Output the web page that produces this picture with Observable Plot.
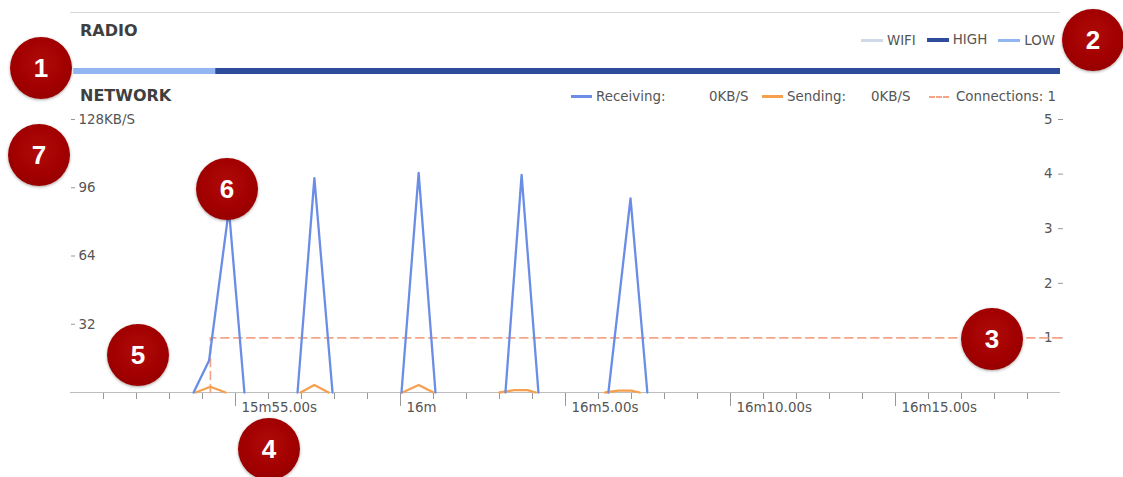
<!DOCTYPE html>
<html>
<head>
<meta charset="utf-8">
<script src="https://cdn.jsdelivr.net/npm/d3@7"></script>
<script src="https://cdn.jsdelivr.net/npm/@observablehq/plot@0.6"></script>
<style>
  html, body { margin: 0; padding: 0; background: #fff; }
  body { width: 1123px; height: 477px; position: relative; overflow: hidden; font-family: "DejaVu Sans", sans-serif; }
  #topline { position: absolute; left: 70px; top: 12px; width: 990px; height: 0; border-top: 1px solid #d8d8d8; }
  .title { position: absolute; left: 80px; font-weight: bold; font-size: 16px; color: #3f3f3f; line-height: 20px; }
  #radio-title { top: 21px; }
  #net-title { top: 86px; }
  .legend { position: absolute; font-size: 13.4px; color: #555; line-height: 16px; white-space: nowrap; }
  .legend .item { display: inline-flex; align-items: center; }
  .legend .sw { display: inline-block; width: 22px; height: 0; margin-right: 4px; }
  #radio-legend { top: 30px; right: 68px; }
  #radio-legend .item { margin-left: 11px; }
  #net-legend { top: 86px; left: 571px; }
  #net-legend .lab { display: inline-block; }
  #radio { position: absolute; left: 0; top: 68px; }
  #net { position: absolute; left: 0; top: 100px; }
  .badge { position: absolute; width: 62px; height: 62px; border-radius: 50%;
    background: radial-gradient(circle at 50% 42%, #b00a0a 0%, #a10000 55%, #8c0000 100%);
    box-shadow: 0 1px 3px rgba(0,0,0,0.35);
    color: #fff; font-family: "Liberation Sans", Arial, sans-serif; font-weight: bold; font-size: 26px;
    display: flex; align-items: center; justify-content: center; }
</style>
</head>
<body>
<div id="topline"></div>
<div class="title" id="radio-title">RADIO</div>
<div class="legend" id="radio-legend"></div>
<div id="radio"></div>
<div class="title" id="net-title">NETWORK</div>
<div class="legend" id="net-legend"></div>
<div id="net"></div>

<div class="badge" style="left:10px;top:37px;">1</div>
<div class="badge" style="left:1062px;top:9px;">2</div>
<div class="badge" style="left:961px;top:308px;">3</div>
<div class="badge" style="left:238px;top:418px;">4</div>
<div class="badge" style="left:107px;top:324px;">5</div>
<div class="badge" style="left:196px;top:158px;">6</div>
<div class="badge" style="left:8px;top:124px;">7</div>

<script>
// ---------- data ----------
// radio states
const radioStates = ["WIFI", "HIGH", "LOW"];
const radioStart = [950.1, 954.4];
const radioEnd = [954.4, 980];
const radioState = ["LOW", "HIGH"];

// receiving (KB/s), time in seconds (15m50s = 950 s)
const recvTime  = [953.73, 954.2, 954.8, 955.27, 956.88, 957.39, 957.94, 960.03, 960.55, 961.06, 963.18, 963.67, 964.18, 966.3, 966.97, 967.48];
const recvKB    = [0, 15, 86, 0, 0, 100.5, 0, 0, 103, 0, 0, 102, 0, 0, 91, 0];
const recvBurst = [1, 1, 1, 1, 2, 2, 2, 3, 3, 3, 4, 4, 4, 5, 5, 5];

// sending (KB/s)
const sendTime  = [953.79, 954.24, 954.7, 956.97, 957.39, 957.82, 960.06, 960.55, 961.0, 963.0, 963.45, 963.85, 964.1, 966.2, 966.6, 967.0, 967.25];
const sendKB    = [0, 2.7, 0, 0, 3.5, 0, 0, 3.5, 0, 0, 1.1, 1.1, 0, 0, 0.9, 0.9, 0];
const sendBurst = [1, 1, 1, 2, 2, 2, 3, 3, 3, 4, 4, 4, 4, 5, 5, 5, 5];

// connections (count)
const connTime  = [954.24, 954.24, 980];
const connCount = [0, 1, 1];

// axis ticks
const kbTicks = [32, 64, 96, 128];
const kbLabels = ["32", "64", "96", "128KB/S"];
const connTicks = [1, 2, 3, 4, 5];
const majorTicks = [955, 960, 965, 970, 975];
const minorTicks = [951, 952, 953, 954, 956, 957, 958, 959, 961, 962, 963, 964, 966, 967, 968, 969, 971, 972, 973, 974, 976, 977, 978, 979];

// legend texts
const netLegendNames = ["Receiving:", "Sending:", "Connections: 1"];
const netLegendValues = ["0KB/S", "0KB/S", ""];

// ---------- styles ----------
const radioColors = {WIFI: "#cfd9e8", HIGH: "#2e4b9c", LOW: "#92b6f1"};
const recvColor = "#6a8de6", sendColor = "#f6a04f", connColor = "#f5a488";
const textColor = "#555", tickColor = "#999";

const xDomain = [950, 980];
const kbMax = 128, connMax = 5;
const kbPerConn = kbMax / connMax;

// ---------- radio legend ----------
const rl = document.getElementById("radio-legend");
for (const s of radioStates) {
  const it = document.createElement("span"); it.className = "item";
  const sw = document.createElement("span"); sw.className = "sw";
  sw.style.borderTop = `${s === "HIGH" ? 4 : 3}px solid ${radioColors[s]}`;
  it.appendChild(sw); it.appendChild(document.createTextNode(s));
  rl.appendChild(it);
}

// ---------- network legend ----------
const nl = document.getElementById("net-legend");
const netSw = [`3px solid ${recvColor}`, `3px solid ${sendColor}`, `2px dashed ${connColor}`];
const labW = [113, 84, null];
const valW = [53, 58, null];
netLegendNames.forEach((n, i) => {
  const it = document.createElement("span"); it.className = "item";
  const sw = document.createElement("span"); sw.className = "sw";
  sw.style.borderTop = netSw[i]; sw.style.width = i === 2 ? "20px" : "21px";
  if (i === 2) sw.style.marginRight = "7px";
  const lab = document.createElement("span"); lab.className = "lab"; lab.textContent = n;
  if (labW[i]) lab.style.width = labW[i] + "px";
  it.appendChild(sw); it.appendChild(lab);
  if (netLegendValues[i]) {
    const v = document.createElement("span"); v.className = "lab"; v.textContent = netLegendValues[i];
    v.style.width = valW[i] + "px";
    it.appendChild(v);
  }
  nl.appendChild(it);
});

// ---------- radio strip ----------
const radioData = radioStart.map((s, i) => ({s, e: radioEnd[i], state: radioState[i]}));
const radioPlot = Plot.plot({
  width: 1123, height: 6,
  marginTop: 0, marginBottom: 0, marginLeft: 70, marginRight: 63,
  x: {domain: xDomain, axis: null},
  color: {domain: radioStates, range: radioStates.map(s => radioColors[s])},
  marks: [Plot.barX(radioData, {x1: "s", x2: "e", fill: "state"})]
});
document.getElementById("radio").appendChild(radioPlot);

// ---------- network chart ----------
const recv = recvTime.map((t, i) => ({t, v: recvKB[i], b: recvBurst[i]}));
const send = sendTime.map((t, i) => ({t, v: sendKB[i], b: sendBurst[i]}));
const conn = connTime.map((t, i) => ({t, c: connCount[i]}));

const fmtTime = d => {
  const m = Math.floor(d / 60), s = d - m * 60;
  return s === 0 ? `${m}m` : `${m}m${s.toFixed(2)}s`;
};

const netPlot = Plot.plot({
  width: 1123, height: 320,
  marginTop: 19, marginBottom: 28, marginLeft: 70, marginRight: 63,
  x: {domain: xDomain},
  y: {domain: [0, kbMax]},
  style: {fontFamily: "DejaVu Sans, sans-serif", fontSize: "13.4px", color: textColor, overflow: "visible"},
  marks: [
    // left axis (KB/s): ticks inside, labels to the right of ticks
    Plot.axisY(kbTicks, {anchor: "left", tickSize: 4, dx: 5, fill: "none", stroke: tickColor, label: null}),
    Plot.axisY(kbTicks, {anchor: "left", tickSize: 0, tickPadding: 0, dx: 8, textAnchor: "start", fill: textColor,
      tickFormat: d => kbLabels[kbTicks.indexOf(d)], label: null}),
    // right axis (connections)
    Plot.axisY(connTicks.map(c => c * kbPerConn), {anchor: "right", tickSize: 5, dx: -3, fill: "none", stroke: tickColor, label: null}),
    Plot.axisY(connTicks.map(c => c * kbPerConn), {anchor: "right", tickSize: 0, tickPadding: 0, dx: -8, textAnchor: "end", fill: textColor,
      tickFormat: d => String(Math.round(d / kbPerConn)), label: null}),
    // time axis
    Plot.axisX(minorTicks, {anchor: "bottom", tickSize: 7, fill: "none", stroke: tickColor, label: null}),
    Plot.axisX(majorTicks, {anchor: "bottom", tickSize: 14, fill: "none", stroke: tickColor, label: null}),
    Plot.axisX(majorTicks, {anchor: "bottom", tickSize: 0, tickPadding: 0, dx: 6, dy: 15, textAnchor: "start", lineAnchor: "middle",
      fill: textColor, tickFormat: fmtTime, label: null}),
    Plot.ruleY([0], {stroke: "#bdbdbd", strokeWidth: 1.2}),
    // series
    Plot.line(conn, {x: "t", y: d => d.c * kbPerConn, stroke: connColor, strokeWidth: 1.7, strokeDasharray: "8,5"}),
    Plot.line(send, {x: "t", y: "v", z: "b", stroke: sendColor, strokeWidth: 2.3}),
    Plot.line(recv, {x: "t", y: "v", z: "b", stroke: recvColor, strokeWidth: 2.3})
  ]
});
document.getElementById("net").appendChild(netPlot);
</script>
</body>
</html>
